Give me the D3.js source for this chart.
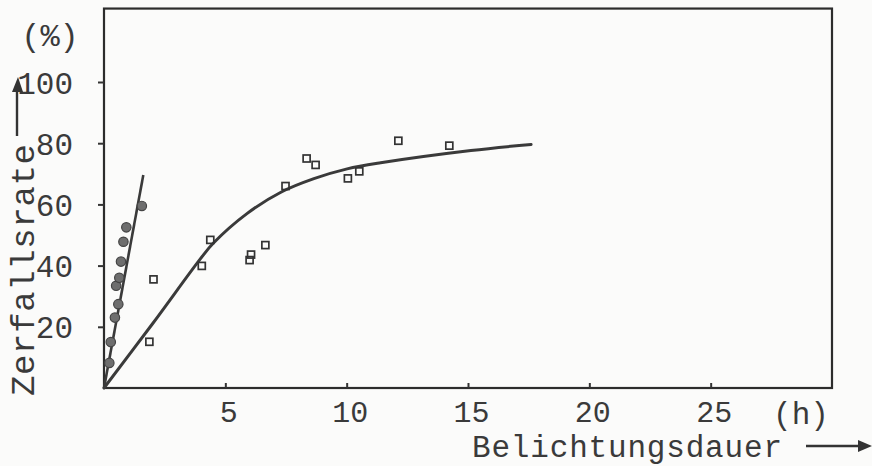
<!DOCTYPE html>
<html>
<head>
<meta charset="utf-8">
<script src="https://cdn.jsdelivr.net/npm/d3@7"></script>
<style>
  body { margin: 0; background: #fbfbfa; }
  svg { display: block; }
  text { font-family: "Liberation Mono", "DejaVu Sans Mono", monospace; fill: #3a3a3a; }
</style>
</head>
<body>
<svg id="chart"></svg>
<script>
// Daten (Belichtungsdauer in h, Zerfallsrate in %)
var xTicks = [5, 10, 15, 20, 25]
var yTicks = [20, 40, 60, 80, 100]

// gefüllte Kreise (steile Gerade)
var circleX = [0.22, 0.28, 0.45, 0.59, 0.50, 0.63, 0.70, 0.80, 0.92, 1.56]
var circleY = [8.2, 15.0, 23.0, 27.4, 33.4, 36.0, 41.3, 47.8, 52.5, 59.5]
var steepLineX = [0, 1.62]
var steepLineY = [0, 69.6]

// offene Quadrate (Sättigungskurve)
var squareX = [1.87, 2.04, 4.03, 4.38, 6.00, 6.06, 6.65, 7.48, 8.35, 8.72, 10.05, 10.52, 12.13, 14.23]
var squareY = [15.1, 35.5, 39.9, 48.4, 41.8, 43.6, 46.7, 66.0, 75.0, 72.9, 68.5, 70.8, 80.8, 79.2]
var curveX = [0, 2.0, 3.97, 4.5, 5.89, 7.27, 8.65, 10.02, 11.4, 15.12, 17.6]
var curveY = [0, 21.0, 42.2, 47.3, 57.0, 63.9, 68.4, 71.6, 73.6, 77.6, 79.6]

var width = 872,
    height = 466
var svg = d3.select("#chart").attr("width", width).attr("height", height)

var x = d3.scaleLinear().domain([0, 30]).range([104, 832])
var y = d3.scaleLinear().domain([0, 100]).range([388, 82])
var yTop = 124 // oberer Rahmen

var ink = "#333"

// Rahmen
svg.append("rect")
    .attr("x", x(0))
    .attr("y", y(yTop))
    .attr("width", x(30) - x(0))
    .attr("height", y(0) - y(yTop))
    .attr("fill", "none")
    .attr("stroke", "#2c2c2c")
    .attr("stroke-width", 2.2)

// y-Achse
var yAxis = svg.append("g")
    .attr("transform", "translate(" + x(0) + ",0)")
    .call(d3.axisLeft(y).tickValues(yTicks).tickSize(6).tickPadding(25))
yAxis.select(".domain").remove()
yAxis.selectAll("line").attr("stroke", ink).attr("stroke-width", 2)
yAxis.selectAll("text")
    .attr("font-size", 31)
    .attr("font-family", "Liberation Mono, monospace")
    .attr("fill", "#444")
    .attr("dy", "0.36em")

// x-Achse (Striche nach innen)
var xAxis = svg.append("g")
    .attr("transform", "translate(0," + y(0) + ")")
    .call(d3.axisBottom(x).tickValues(xTicks).tickSizeInner(-5).tickSizeOuter(0).tickPadding(13))
xAxis.select(".domain").remove()
xAxis.selectAll("line").attr("stroke", ink).attr("stroke-width", 2)
xAxis.selectAll("text")
    .attr("font-size", 30)
    .attr("font-family", "Liberation Mono, monospace")
    .attr("fill", "#444")
    .attr("dy", "0.71em")
    .attr("dx", 3)

// Linien
var steep = d3.zip(steepLineX, steepLineY)
var curve = d3.zip(curveX, curveY)
var line = d3.line()
    .x(function (d) { return x(d[0]) })
    .y(function (d) { return y(d[1]) })

svg.append("path")
    .attr("d", line(steep))
    .attr("fill", "none")
    .attr("stroke", "#3a3a3a")
    .attr("stroke-width", 2.6)
svg.append("path")
    .attr("d", line.curve(d3.curveCatmullRom.alpha(0.5))(curve))
    .attr("fill", "none")
    .attr("stroke", "#3a3a3a")
    .attr("stroke-width", 3)
    .attr("stroke-linecap", "round")

// Kreise
svg.append("g").selectAll("circle")
    .data(d3.zip(circleX, circleY))
    .enter().append("circle")
    .attr("cx", function (d) { return x(d[0]) })
    .attr("cy", function (d) { return y(d[1]) })
    .attr("r", 4.7)
    .attr("fill", "#6e6e6e")
    .attr("stroke", "#444")
    .attr("stroke-width", 1.2)

// Quadrate
var s = 7
svg.append("g").selectAll("rect")
    .data(d3.zip(squareX, squareY))
    .enter().append("rect")
    .attr("x", function (d) { return x(d[0]) - s / 2 })
    .attr("y", function (d) { return y(d[1]) - s / 2 })
    .attr("width", s)
    .attr("height", s)
    .attr("fill", "none")
    .attr("stroke", "#333")
    .attr("stroke-width", 1.7)

// Beschriftungen
svg.append("text")
    .attr("x", 50).attr("y", 46)
    .attr("text-anchor", "middle")
    .attr("font-size", 32)
    .text("(%)")
svg.append("text")
    .attr("x", 801).attr("y", 424)
    .attr("text-anchor", "middle")
    .attr("font-size", 31)
    .text("(h)")
svg.append("text")
    .attr("x", 472).attr("y", 457)
    .attr("font-size", 31)
    .attr("textLength", 310)
    .text("Belichtungsdauer")
svg.append("text")
    .attr("transform", "translate(34,396) rotate(-90)")
    .attr("font-size", 34)
    .attr("textLength", 252)
    .text("Zerfallsrate")

// Pfeile
svg.append("line")
    .attr("x1", 806).attr("y1", 446).attr("x2", 862).attr("y2", 446)
    .attr("stroke", "#333").attr("stroke-width", 2.4)
svg.append("path")
    .attr("d", "M872,446 L858,440 L858,452 Z")
    .attr("fill", "#333")
svg.append("line")
    .attr("x1", 17).attr("y1", 136).attr("x2", 17).attr("y2", 88)
    .attr("stroke", "#333").attr("stroke-width", 2.4)
svg.append("path")
    .attr("d", "M18,77 L12,92 L23,92 Z")
    .attr("fill", "#333")
</script>
</body>
</html>
